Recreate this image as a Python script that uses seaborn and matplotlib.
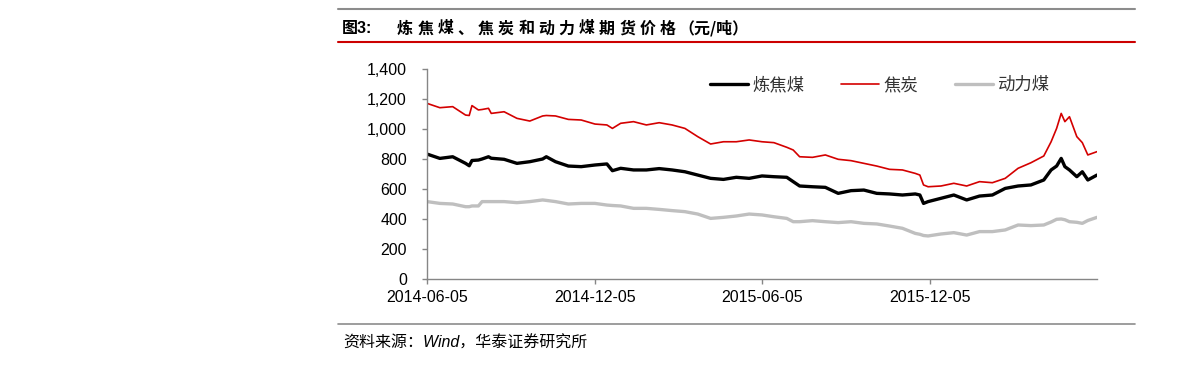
import matplotlib
matplotlib.use("Agg")
import numpy as np
import pandas as pd
import matplotlib.pyplot as plt
import seaborn as sns
from matplotlib.lines import Line2D
from matplotlib.ticker import FuncFormatter

# ---------------- data ----------------
start_date = "2014-06-05"
day_offsets = [0, 14, 28, 42, 46, 49, 56, 60, 67, 70,
               84, 98, 112, 126, 130, 140, 154, 168, 183, 196,
               202, 211, 225, 239, 253, 267, 281, 295, 309, 323,
               337, 351, 365, 378, 392, 399, 406, 420, 434, 448,
               462, 476, 490, 504, 518, 532, 537, 541, 546, 560,
               574, 588, 602, 616, 630, 644, 658, 672, 680, 686,
               691, 695, 700, 708, 714, 720, 730]

coke = [1171, 1142, 1149, 1093, 1090, 1156, 1127, 1130, 1138, 1104,
        1115, 1071, 1053, 1087, 1090, 1087, 1064, 1060, 1033, 1027,
        1004, 1038, 1049, 1027, 1042, 1027, 1004, 949, 900, 915,
        915, 927, 915, 909, 878, 860, 815, 811, 827, 798,
        789, 771, 753, 731, 727, 704, 693, 627, 615, 620,
        638, 620, 649, 642, 671, 738, 775, 820, 915, 1004,
        1104, 1049, 1082, 949, 909, 827, 849]

coking_coal = [833, 804, 815, 771, 755, 790, 793, 800, 815, 805,
               798, 771, 782, 800, 815, 782, 753, 749, 760, 767,
               722, 738, 727, 727, 736, 727, 715, 693, 671, 664,
               678, 671, 687, 682, 678, 649, 620, 615, 611, 571,
               589, 593, 571, 567, 560, 567, 560, 504, 516, 538,
               560, 527, 553, 560, 604, 620, 627, 660, 727, 753,
               804, 749, 727, 682, 715, 660, 693]

thermal_coal = [516, 504, 500, 482, 482, 487, 487, 516, 516, 516,
                516, 509, 516, 527, 524, 516, 500, 504, 504, 493,
                490, 487, 471, 471, 464, 456, 449, 433, 404, 411,
                420, 433, 427, 415, 404, 382, 382, 389, 382, 376,
                382, 371, 367, 353, 338, 304, 298, 290, 287, 300,
                309, 293, 316, 316, 327, 360, 356, 360, 380, 398,
                400, 395, 382, 378, 371, 390, 411]

series_names = ["炼焦煤", "焦炭", "动力煤"]
x_tick_labels = ["2014-06-05", "2014-12-05", "2015-06-05", "2015-12-05"]
y_ticks = [0, 200, 400, 600, 800, 1000, 1200, 1400]
end_offset = 730

title_prefix = "图3:"
title_text = "炼焦煤、焦炭和动力煤期货价格"
title_unit = "（元/吨）"
source_text = "资料来源：Wind，华泰证券研究所"

# ---------------- build table ----------------
dates = pd.Timestamp(start_date) + pd.to_timedelta(day_offsets, unit="D")
df = pd.concat([
    pd.DataFrame({"date": dates, "price": coking_coal, "series": series_names[0]}),
    pd.DataFrame({"date": dates, "price": coke, "series": series_names[1]}),
    pd.DataFrame({"date": dates, "price": thermal_coal, "series": series_names[2]}),
], ignore_index=True)

colors = {series_names[0]: "#000000", series_names[1]: "#D40000", series_names[2]: "#BFBFBF"}
widths = {series_names[0]: 2.4, series_names[1]: 1.2, series_names[2]: 2.4}

# ---------------- figure ----------------
sns.set_theme(style="white")
plt.rcParams["font.family"] = ["Liberation Sans", "Noto Sans CJK SC", "DejaVu Sans"]
plt.rcParams["axes.unicode_minus"] = False

W, H = 1191, 373
fig = plt.figure(figsize=(W / 100, H / 100), dpi=100)
fig.patch.set_facecolor("white")

def fx(px):
    return px / W

def fy(py):
    return 1 - py / H

ax = fig.add_axes([fx(427), fy(279), fx(1097) - fx(427), fy(69) - fy(279)])
ax.set_facecolor("white")

sns.lineplot(data=df, x="date", y="price", hue="series", size="series",
             palette=colors, sizes=widths, hue_order=series_names,
             size_order=series_names, legend=False, ax=ax)

ax.set_xlim(pd.Timestamp(start_date), pd.Timestamp(start_date) + pd.Timedelta(days=end_offset))
ax.set_ylim(y_ticks[0], y_ticks[-1])
ax.set_yticks(y_ticks)
ax.yaxis.set_major_formatter(FuncFormatter(lambda v, p: f"{int(v):,}"))
ax.set_xticks(pd.to_datetime(x_tick_labels))
ax.set_xticklabels(x_tick_labels)
ax.set_xlabel("")
ax.set_ylabel("")
ax.grid(False)

for s in ["top", "right"]:
    ax.spines[s].set_visible(False)
for s in ["left", "bottom"]:
    ax.spines[s].set_color("#868686")
    ax.spines[s].set_linewidth(1.0)

ax.tick_params(axis="both", which="major", direction="out", length=3.6, width=1.0,
               color="#868686", labelsize=11.5, labelcolor="#000000")
ax.tick_params(axis="y", pad=10.8, left=True)
ax.tick_params(axis="x", pad=4.0, bottom=True)
for lab in ax.get_xticklabels() + ax.get_yticklabels():
    lab.set_family("Liberation Sans")

# legend
handles = [Line2D([0], [0], color=colors[n], lw=widths[n]) for n in series_names]
leg = ax.legend(handles, series_names, loc="center left",
                bbox_to_anchor=(fx(710), fy(85)), bbox_transform=fig.transFigure,
                ncol=3, frameon=False, handlelength=2.2, handletextpad=0.25,
                columnspacing=2.1, borderpad=0, borderaxespad=0,
                prop={"family": "Noto Sans CJK SC", "size": 12.5})
for t in leg.get_texts():
    t.set_color("#333333")

# header / footer rules
fig.add_artist(Line2D([fx(338), fx(1135)], [fy(9), fy(9)], color="#8C8C8C", lw=1.5,
                      transform=fig.transFigure))
fig.add_artist(Line2D([fx(338), fx(1135)], [fy(42.3), fy(42.3)], color="#CC0000", lw=1.5,
                      transform=fig.transFigure))
fig.add_artist(Line2D([fx(338), fx(1135)], [fy(324), fy(324)], color="#8C8C8C", lw=1.2,
                      transform=fig.transFigure))

# title (characters spaced like the reference)
fig.text(fx(342), fy(28.5), title_prefix, ha="left", va="center", fontsize=11.5,
         fontweight="bold", color="#000000",
         family=["Liberation Sans", "Noto Sans CJK SC"])
xpos = 397.0
for ch in title_text:
    fig.text(fx(xpos), fy(28.5), ch, ha="left", va="center", fontsize=11.5,
             fontweight="bold", color="#000000", family=["Noto Sans CJK SC", "DejaVu Sans"])
    xpos += 20.2
fig.text(fx(xpos - 1.5), fy(28.5), title_unit, ha="left", va="center", fontsize=11.5,
         fontweight="bold", color="#000000", family=["Noto Sans CJK SC", "DejaVu Sans"])

# source
fig.text(fx(343), fy(343), source_text, ha="left", va="center", fontsize=11.5,
         style="italic", color="#000000",
         family=["Liberation Sans", "Noto Sans CJK SC"])

fig.savefig("out.png", dpi=100, facecolor="white")
